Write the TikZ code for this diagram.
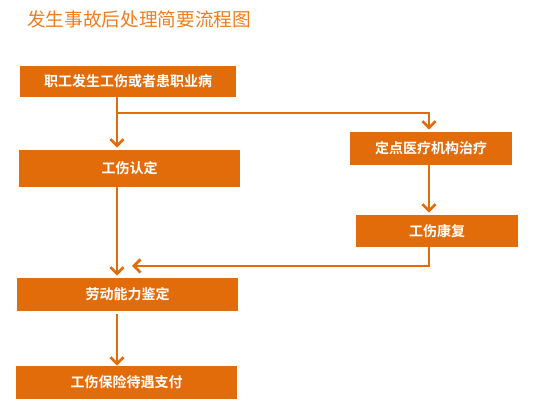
\documentclass[tikz,border=0pt]{standalone}
\usepackage{fontspec}
\setmainfont{Noto Sans CJK SC}
\newfontfamily\cjkbold{Noto Sans CJK SC Bold}
\usepackage{tikz}
\usetikzlibrary{arrows.meta}
\definecolor{flowor}{HTML}{E36C0A}
\definecolor{titleor}{HTML}{EF7E1C}
\tikzset{
	box/.style={fill=flowor, text=white, inner sep=0pt, font=\cjkbold\fontsize{10.5}{12}\selectfont},
	arr/.style={draw=flowor, line width=2.2pt, -{Straight Barb[length=5pt, width=10pt, line width=2pt]}},
	ln/.style={draw=flowor, line width=2.2pt}
}

\begin{document}
\begin{tikzpicture}[x=0.75pt, y=-0.75pt]
		%%%%% START %%%%%
		\useasboundingbox (0, 0) rectangle (539, 409);
		
		\node[anchor=west, inner sep=0pt, text=titleor, font=\fontsize{14}{16}\selectfont] (title) at (27, 19) {发生事故后处理简要流程图};
		
		\node[box, minimum width=216*0.75pt, minimum height=31*0.75pt] (injury) at (128, 81.5) {职工发生工伤或者患职业病};
		\node[box, minimum width=221*0.75pt, minimum height=37*0.75pt] (confirm) at (129.5, 168.5) {工伤认定};
		\node[box, minimum width=162*0.75pt, minimum height=33*0.75pt] (treat) at (431, 148.5) {定点医疗机构治疗};
		\node[box, minimum width=162*0.75pt, minimum height=32*0.75pt] (rehab) at (437, 231) {工伤康复};
		\node[box, minimum width=221*0.75pt, minimum height=33*0.75pt] (assess) at (127.5, 294.5) {劳动能力鉴定};
		\node[box, minimum width=221*0.75pt, minimum height=33*0.75pt] (pay) at (126.5, 382.5) {工伤保险待遇支付};
		
		% column lines and turning points
		\coordinate (lx) at (117, 0);
		\coordinate (rx) at (429, 0);
		\coordinate (split) at (117, 113);
		\coordinate (join) at (429, 266);
		
		\draw[arr] (injury.south -| lx) -- ([yshift=1.5pt]confirm.north -| lx);
		\draw[arr] (split) -- (split -| rx) -- ([yshift=1.5pt]treat.north -| rx);
		\draw[arr] (confirm.south -| lx) -- ([yshift=1.5pt]assess.north -| lx);
		\draw[arr] (treat.south -| rx) -- ([yshift=1.5pt]rehab.north -| rx);
		\draw[arr] (rehab.south -| rx) -- (join) -- (132, 266);
		\draw[arr] ([yshift=-2pt]assess.south -| lx) -- (pay.north -| lx);
		
		%%%%% END %%%%%
\end{tikzpicture}
\end{document}
